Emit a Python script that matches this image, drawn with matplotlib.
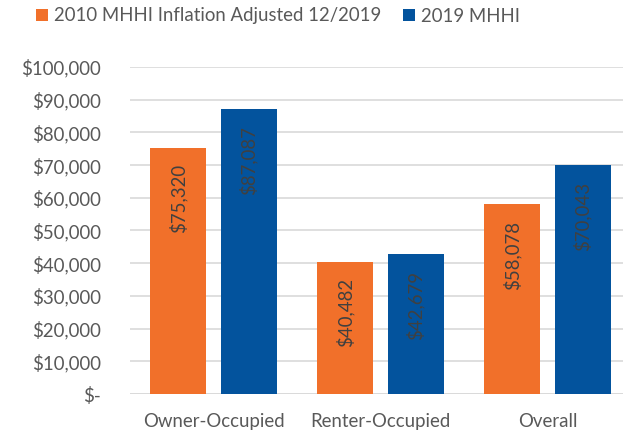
import matplotlib
matplotlib.use("Agg")
import matplotlib.pyplot as plt
import numpy as np
from matplotlib.ticker import FuncFormatter

categories = ["Owner-Occupied", "Renter-Occupied", "Overall"]
series_names = ["2010 MHHI Inflation Adjusted 12/2019", "2019 MHHI"]
values_2010 = [75320, 40482, 58078]
values_2019 = [87087, 42679, 70043]
colors = ["#F1702A", "#03539D"]

plt.rcParams['font.family'] = ['Lato', 'DejaVu Sans']
text_color = "#595959"
fs = 13.4

fig = plt.figure(figsize=6.23 * np.array([1, 440 / 623]), dpi=100)
ax = fig.add_axes([130 / 623, 46 / 440, 501 / 623, 327 / 440])

x = np.arange(len(categories))
w = 0.335
off = 0.21
b1 = ax.bar(x - off, values_2010, w, color=colors[0], label=series_names[0], zorder=3)
b2 = ax.bar(x + off, values_2019, w, color=colors[1], label=series_names[1], zorder=3)

for bars, vals in ((b1, values_2010), (b2, values_2019)):
    for r, v in zip(bars, vals):
        ax.annotate(f"${v:,}", (r.get_x() + r.get_width() / 2, v), xytext=(0, -12),
                    textcoords="offset points", rotation=90, ha="center", va="top",
                    fontsize=fs, color="#404040", zorder=4)

ax.set_xlim(-0.5, 2.5)
ax.set_ylim(0, 100000)
ax.set_yticks(np.arange(0, 100001, 10000))
ax.yaxis.set_major_formatter(FuncFormatter(lambda v, p: "$-" if v == 0 else f"${int(v):,}"))
ax.set_xticks(x)
ax.set_xticklabels(categories)
ax.grid(axis="y", color="#D9D9D9", linewidth=1.2, zorder=0)
ax.tick_params(length=0, labelsize=fs, colors=text_color)
ax.tick_params(axis="y", pad=21)
ax.tick_params(axis="x", pad=14)
for s in ax.spines.values():
    s.set_visible(False)
ax.axhline(0, color="#D9D9D9", linewidth=1.2, zorder=2)

leg = fig.legend(handles=[b1, b2], labels=series_names, loc="center", bbox_to_anchor=(278 / 623, 1 - 16 / 440),
                 ncol=2, frameon=False, fontsize=fs, handlelength=0.65, handleheight=0.65,
                 handletextpad=0.3, columnspacing=1.2, labelcolor=text_color)

fig.savefig("out.png", dpi=100)
